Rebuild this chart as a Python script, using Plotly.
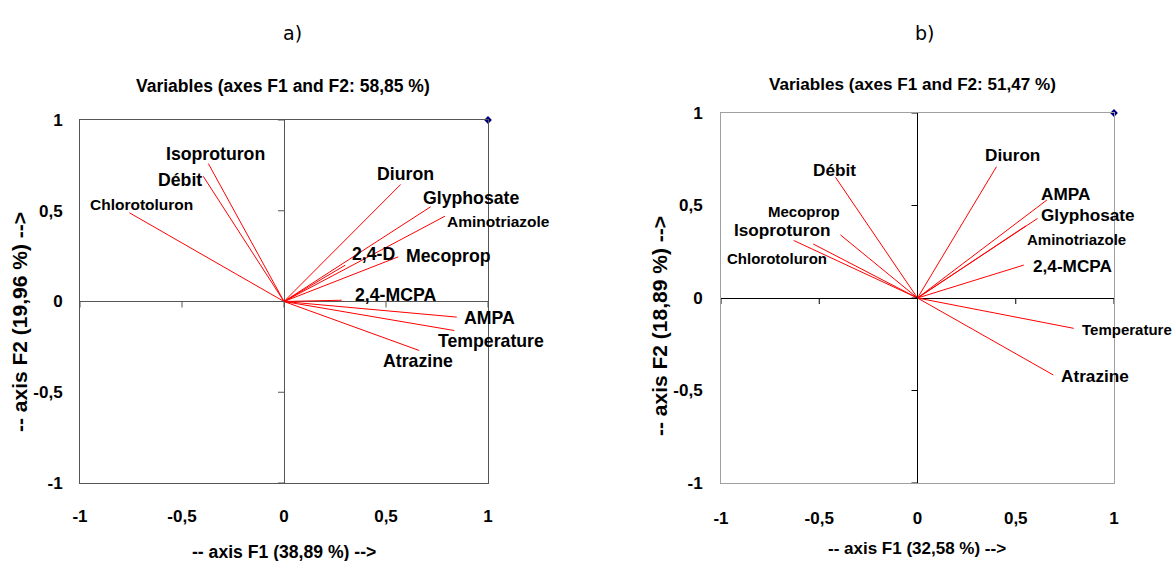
import plotly.graph_objects as go

W, H = 1175, 561

# ---------------- data ----------------
vars_a = ["Isoproturon", "Débit", "Chlorotoluron", "Diuron", "Glyphosate", "Aminotriazole",
          "2,4-D", "Mecoprop", "2,4-MCPA", "AMPA", "Temperature", "Atrazine"]
f1_a = [-0.371, -0.396, -0.758, 0.572, 0.719, 0.789, 0.300, 0.560, 0.283, 0.847, 0.835, 0.663]
f2_a = [0.760, 0.690, 0.489, 0.645, 0.522, 0.470, 0.200, 0.246, 0.007, -0.086, -0.160, -0.270]

vars_b = ["Débit", "Diuron", "AMPA", "Glyphosate", "Aminotriazole", "2,4-MCPA",
          "Temperature", "Atrazine", "Mecoprop", "Isoproturon", "Chlorotoluron"]
f1_b = [-0.417, 0.402, 0.659, 0.611, 0.550, 0.541, 0.795, 0.691, -0.392, -0.630, -0.531]
f2_b = [0.652, 0.710, 0.530, 0.430, 0.389, 0.178, -0.164, -0.416, 0.341, 0.311, 0.292]

tick_vals = [-1, -0.5, 0, 0.5, 1]
tick_text = ["-1", "-0,5", "0", "0,5", "1"]

title_a = "Variables (axes F1 and F2: 58,85 %)"
title_b = "Variables (axes F1 and F2: 51,47 %)"
xtitle_a = "-- axis F1 (38,89 %) -->"
ytitle_a = "-- axis F2 (19,96 %) -->"
xtitle_b = "-- axis F1 (32,58 %) -->"
ytitle_b = "-- axis F2 (18,89 %) -->"

# ---------------- label styling (pixel offsets, font sizes) ----------------
shift_a = [(7, 9.5), (-23.6, -3.8), (12, 8.3), (5, 10.5), (40, 9), (54, -5),
           (28, 11), (50.7, 0.6), (53.6, 5.4), (32.8, -1), (36.7, -10), (-1.3, -10.7)]
size_a = [17.7, 17.7, 15.5, 17.7, 17.7, 15.5, 17.7, 17.7, 17.7, 17.7, 17.7, 17.7]

shift_b = [(-1, 7.6), (15.7, 11.7), (18.2, 6), (50, 3.8), (50.8, -13.2), (48.4, -0.8),
           (53.7, -1), (41.3, -0.8), (-36.5, 23.7), (-12, 10.2), (-36.4, -14.3)]
size_b = [17.2, 17.2, 17.2, 17.2, 15, 17.2, 15, 17.2, 15, 17.2, 15]

FONT = "Liberation Sans, Arial, sans-serif"
TXT = "#000000"


def px_x(p):
    return p / W


def px_y(p):
    return 1 - p / H


fig = go.Figure()


def vectors(f1, f2, xa, ya):
    xs, ys = [], []
    for a, b in zip(f1, f2):
        xs += [0, a, None]
        ys += [0, b, None]
    fig.add_trace(go.Scatter(x=xs, y=ys, mode="lines", xaxis=xa, yaxis=ya,
                             line=dict(color="#ff0000", width=1),
                             hoverinfo="skip", showlegend=False))
    fig.add_trace(go.Scatter(x=[1], y=[1], mode="markers", xaxis=xa, yaxis=ya,
                             marker=dict(symbol="diamond", size=6, color="#00007f"),
                             cliponaxis=False, showlegend=False, hoverinfo="skip"))


vectors(f1_a, f2_a, "x", "y")
vectors(f1_b, f2_b, "x2", "y2")

axis_common = dict(range=[-1, 1], showgrid=False, zeroline=True, zerolinewidth=1,
                   showline=True, mirror=True, linewidth=1, ticks="", automargin=False,
                   tickvals=tick_vals, ticktext=tick_text, fixedrange=True,
                   tickfont=dict(family=FONT, size=17, color=TXT, weight="bold"))

fig.update_layout(
    width=W, height=H, margin=dict(l=0, r=0, t=0, b=0, autoexpand=False),
    paper_bgcolor="white", plot_bgcolor="white", showlegend=False,
    xaxis=dict(domain=[px_x(80), px_x(488)], anchor="y", linecolor="#555555",
               zerolinecolor="#555555", ticklabelstandoff=18, **axis_common),
    yaxis=dict(domain=[px_y(483), px_y(120)], anchor="x", linecolor="#555555",
               zerolinecolor="#555555", ticklabelstandoff=13, **axis_common),
    xaxis2=dict(domain=[px_x(721), px_x(1114)], anchor="y2", linecolor="#a0a0a0",
                zerolinecolor="#000000", ticklabelstandoff=20, **axis_common),
    yaxis2=dict(domain=[px_y(483), px_y(113)], anchor="x2", linecolor="#a0a0a0",
                zerolinecolor="#000000", ticklabelstandoff=14, **axis_common),
)

# tick marks on the zero lines
shapes = []
for xr, yr, col in [("x", "y", "#555555"), ("x2", "y2", "#000000")]:
    for v in tick_vals:
        shapes.append(dict(type="line", xref=xr, yref=yr, ysizemode="pixel", yanchor=0,
                           x0=v, x1=v, y0=0, y1=-6, line=dict(color=col, width=1)))
        shapes.append(dict(type="line", xref=xr, yref=yr, xsizemode="pixel", xanchor=0,
                           x0=-6, x1=0, y0=v, y1=v, line=dict(color=col, width=1)))
fig.update_layout(shapes=shapes)

anns = []
for names, f1, f2, shifts, sizes, xr, yr in [
        (vars_a, f1_a, f2_a, shift_a, size_a, "x", "y"),
        (vars_b, f1_b, f2_b, shift_b, size_b, "x2", "y2")]:
    for n, a, b, s, fs in zip(names, f1, f2, shifts, sizes):
        anns.append(dict(text=n, x=a, y=b, xref=xr, yref=yr, showarrow=False,
                         xanchor="center", yanchor="middle", xshift=s[0], yshift=s[1],
                         font=dict(family=FONT, size=fs, color=TXT, weight="bold")))


def paper_text(text, x, y, size, bold=True, angle=0, family=FONT):
    anns.append(dict(text=text, x=px_x(x), y=px_y(y), xref="paper", yref="paper",
                     showarrow=False, xanchor="center", yanchor="middle", textangle=angle,
                     font=dict(family=family, size=size, color=TXT,
                               weight="bold" if bold else "normal")))


paper_text("a)", 292, 33, 19, bold=False, family="DejaVu Sans, sans-serif")
paper_text("b)", 924, 33, 19, bold=False, family="DejaVu Sans, sans-serif")
paper_text(title_a, 283, 86, 17.5)
paper_text(title_b, 912, 85, 17.1)
paper_text(xtitle_a, 284, 552, 17.6)
paper_text(xtitle_b, 917, 548, 17)
paper_text(ytitle_a, 19, 322, 21, angle=-90)
paper_text(ytitle_b, 659, 326, 21, angle=-90)

fig.update_layout(annotations=anns)

fig.write_html("out.html")
